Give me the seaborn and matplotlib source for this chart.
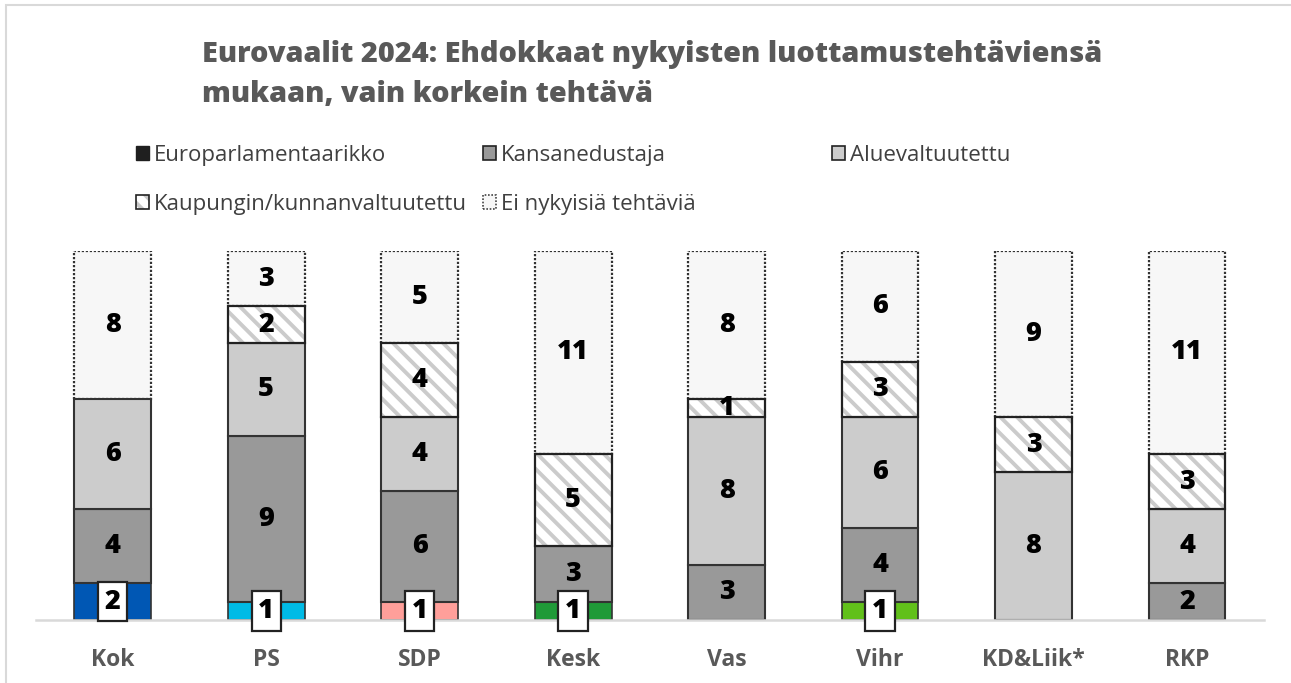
import numpy as np
import pandas as pd
import matplotlib
matplotlib.use("Agg")
import matplotlib.pyplot as plt
import matplotlib.patches as mpatches
import seaborn as sns

parties = ["Kok", "PS", "SDP", "Kesk", "Vas", "Vihr", "KD&Liik*", "RKP"]
europarl = [2, 1, 1, 1, 0, 1, 0, 0]
kansanedustaja = [4, 9, 6, 3, 3, 4, 0, 2]
aluevaltuutettu = [6, 5, 4, 0, 8, 6, 8, 4]
kaupunki = [0, 2, 4, 5, 1, 3, 3, 3]
ei_tehtavia = [8, 3, 5, 11, 8, 6, 9, 11]
euro_colors = ["#0057b4", "#00bbe6", "#ff9f9a", "#1f9a38", "#999999", "#61c01a", "#999999", "#999999"]

title = "Eurovaalit 2024: Ehdokkaat nykyisten luottamustehtäviensä\nmukaan, vain korkein tehtävä"
names = ["Europarlamentaarikko", "Kansanedustaja", "Aluevaltuutettu",
         "Kaupungin/kunnanvaltuutettu", "Ei nykyisiä tehtäviä"]

sns.set_theme(style="white")
plt.rcParams["font.family"] = ["Open Sans", "DejaVu Sans"]
plt.rcParams["hatch.linewidth"] = 2.8

df = pd.DataFrame({"party": parties, "euro": europarl, "kansan": kansanedustaja,
                   "alue": aluevaltuutettu, "kaup": kaupunki, "ei": ei_tehtavia})

fig = plt.figure(figsize=(12.91, 6.83), dpi=100)
ax = fig.add_axes([0.0279, 0.0922, 0.951, 0.5403])

edge = "#333333"
lbl = dict(label_type="center", fontsize=19.5, fontweight=800, color="black")

def layer_labels(container, vals):
    ax.bar_label(container, labels=[str(v) if v > 0 else "" for v in vals], **lbl)

# europarlamentaarikko, party colours
sns.barplot(data=df, x="party", y="euro", hue="party", palette=euro_colors, order=parties,
            legend=False, width=0.5, edgecolor=edge, linewidth=1.2, errorbar=None,
            saturation=1, ax=ax)
euro_conts = list(ax.containers)

bottom = np.array(europarl, dtype=float)
sns.barplot(data=df, x="party", y="kansan", order=parties, color="#999999", bottom=bottom,
            width=0.5, edgecolor=edge, linewidth=1.5, errorbar=None, saturation=1, ax=ax)
layer_labels(ax.containers[-1], kansanedustaja)

bottom = bottom + np.array(kansanedustaja)
sns.barplot(data=df, x="party", y="alue", order=parties, color="#cccccc", bottom=bottom,
            width=0.5, edgecolor=edge, linewidth=1.5, errorbar=None, saturation=1, ax=ax)
layer_labels(ax.containers[-1], aluevaltuutettu)

bottom = bottom + np.array(aluevaltuutettu)
# Ei nykyisiä: dotted outline, drawn below the solid edges
sns.barplot(data=df, x="party", y="ei", order=parties, color="#f7f7f7",
            bottom=bottom + np.array(kaupunki), width=0.5, edgecolor="#333333",
            linewidth=1.6, linestyle=(0, (1, 0.8)), errorbar=None, saturation=1, zorder=0.8, ax=ax)
layer_labels(ax.containers[-1], ei_tehtavia)

# kaupungin/kunnanvaltuutettu: hatch only, then outline
sns.barplot(data=df, x="party", y="kaup", order=parties, color="white", bottom=bottom,
            width=0.5, edgecolor="#cbcbcb", linewidth=0, hatch="\\\\", errorbar=None,
            saturation=1, ax=ax)
sns.barplot(data=df, x="party", y="kaup", order=parties, color="#222222", fill=False,
            bottom=bottom, width=0.5, edgecolor="#222222", linewidth=1.6, errorbar=None,
            saturation=1, ax=ax)
layer_labels(ax.containers[-1], kaupunki)

for c, v in zip(euro_conts, europarl):
    if v > 0:
        ax.bar_label(c, labels=[str(v)], label_type="center", fontsize=19.5, fontweight=800,
                     color="black", zorder=5,
                     bbox=dict(boxstyle="square,pad=0.25", fc="white", ec="#222222", lw=1.6))

# hide zero-height segments
for p in ax.patches:
    if p.get_height() == 0:
        p.set_visible(False)

ax.set_xlim(-0.5, 7.5)
ax.set_ylim(0, 20)
ax.set_xlabel("")
ax.set_ylabel("")
ax.set_yticks([])
ax.tick_params(axis="x", length=0, pad=20)
for t in ax.get_xticklabels():
    t.set_fontweight("bold")
    t.set_fontsize(16.5)
    t.set_color("#595959")
for s in ["left", "right", "top"]:
    ax.spines[s].set_visible(False)
ax.spines["bottom"].set_color("#d9d9d9")
ax.spines["bottom"].set_linewidth(1.8)

fig.text(202 / 1291, 1 - 40 / 683, title, fontsize=20.8, fontweight=800, color="#595959",
         va="top", ha="left", linespacing=1.5)

h_euro = mpatches.Patch(fc="#1f1f1f", ec="#1f1f1f", lw=1)
h_kansan = mpatches.Patch(fc="#999999", ec="#222222", lw=1.2)
h_alue = mpatches.Patch(fc="#cccccc", ec="#222222", lw=1.2)
h_kaup = (mpatches.Patch(fc="white", ec="#c8c8c8", lw=0, hatch="\\\\"),
          mpatches.Patch(fill=False, ec="#222222", lw=1.2))
h_ei = mpatches.Patch(fc="#f7f7f7", ec="#444444", lw=1.2, ls=(0, (1, 1)))

leg_kw = dict(loc="upper left", frameon=False, fontsize=16, handlelength=0.6,
              handleheight=0.6, handletextpad=0.2, labelspacing=1.25, borderpad=0,
              borderaxespad=0, labelcolor="#404040")
fig.legend([h_euro, h_kaup], [names[0], names[3]], bbox_to_anchor=(136 / 1291, 1 - 145 / 683), **leg_kw)
fig.legend([h_kansan, h_ei], [names[1], names[4]], bbox_to_anchor=(483 / 1291, 1 - 145 / 683), **leg_kw)
fig.legend([h_alue], [names[2]], bbox_to_anchor=(832 / 1291, 1 - 145 / 683), **leg_kw)

fig.patches.append(mpatches.Rectangle((6 / 1291, -0.02), 1.0, 1 - 5 / 683 + 0.02,
                                      transform=fig.transFigure, fill=False,
                                      ec="#d9d9d9", lw=1.5, zorder=0))

fig.savefig("out.png", dpi=100)
